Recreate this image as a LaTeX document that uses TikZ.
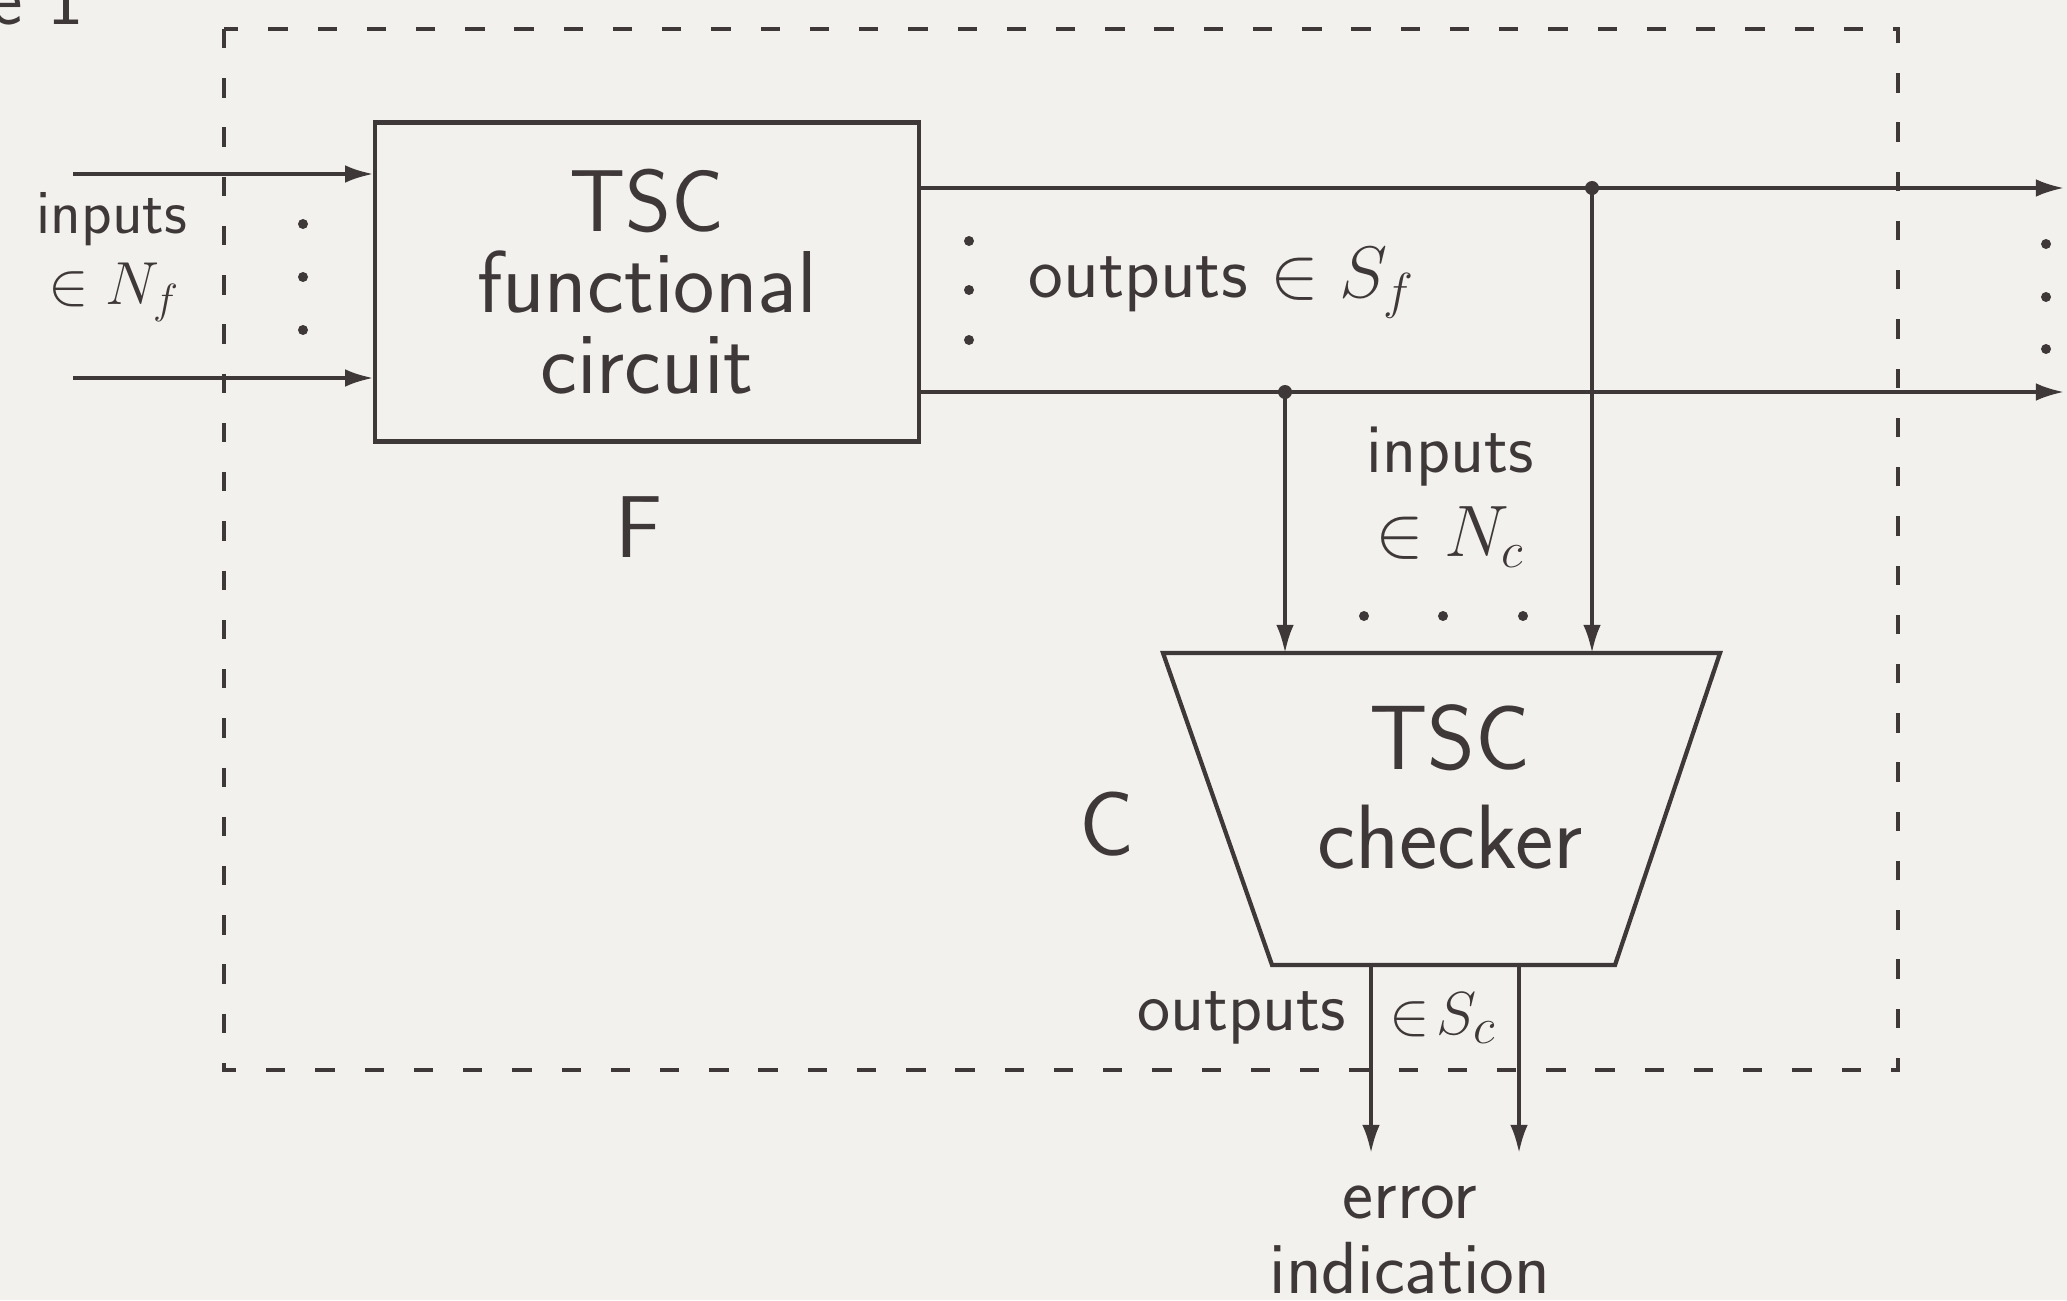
\documentclass[tikz,border=0pt]{standalone}
\usepackage{amsmath,amssymb}
\usepackage{tikz}
\usetikzlibrary{arrows.meta,positioning,calc}
\definecolor{ink}{RGB}{62,56,56}
\definecolor{paper}{RGB}{242,241,238}

\begin{document}
\begin{tikzpicture}[x=0.01cm, y=-0.01cm,
    wire/.style={ink, line width=1pt},
    sig/.style={wire, -{Latex[length=8pt, width=5pt]}},
    frame/.style={ink, line width=1.2pt, dash pattern=on 5.5pt off 8.5pt},
    blk/.style={draw=ink, line width=1.2pt, align=center, text=ink},
    lbl/.style={text=ink, align=center, font=\sffamily\fontsize{19}{22}\selectfont},
    big/.style={text=ink, align=center, font=\sffamily\fontsize{25}{23}\selectfont}]
    % Paper
    \useasboundingbox (0,0) rectangle (2067,1300);
    \fill[paper] (0,0) rectangle (2067,1300);
    \node[lbl, overlay, anchor=base east, font=\sffamily\fontsize{22}{24}\selectfont] (figno) at (96,25) {Figure 1};

    % Boundary of the self-checking network
    \draw[frame] (224,29) rectangle (1898,1070);

    % Functional circuit
    \node[blk, big, minimum width=5.43cm, minimum height=3.19cm] (fbox) at (647,282)
        {TSC\\functional\\circuit};
    \node[big] (fname) at (639,527) {F};

    % Inputs of F
    \coordinate (inA) at (73,174);
    \coordinate (inB) at (73,378);
    \draw[sig] (inA) -- (inA -| fbox.west);
    \draw[sig] (inB) -- (inB -| fbox.west);
    \node[lbl, inner sep=0pt, font=\sffamily\fontsize{18}{19}\selectfont] (finlbl) at (112,219) {inputs};
    \node[lbl, inner sep=0pt, font=\sffamily\fontsize{18}{19}\selectfont] (finset) at (114,292) {$\in N_f$};
    \fill[ink] (303,224) circle (5);
    \fill[ink] (303,277) circle (5);
    \fill[ink] (303,330) circle (5);

    % Outputs of F
    \coordinate (outA) at (2064,188);
    \coordinate (outB) at (2064,392);
    \draw[sig] (outA -| fbox.east) -- (outA);
    \draw[sig] (outB -| fbox.east) -- (outB);
    \node[lbl, font=\sffamily\fontsize{21}{22}\selectfont] (foutlbl) at (1222,283) {outputs $\in S_f$};
    \fill[ink] (969,241) circle (5);
    \fill[ink] (969,290) circle (5);
    \fill[ink] (969,340) circle (5);
    \fill[ink] (2046,244) circle (5);
    \fill[ink] (2046,297) circle (5);
    \fill[ink] (2046,349) circle (5);

    % Checker
    \coordinate (ctl) at (1163,653);
    \coordinate (ctr) at (1720,653);
    \coordinate (cbr) at (1615,965);
    \coordinate (cbl) at (1272,965);
    \draw[wire, line width=1.2pt] (ctl) -- (ctr) -- (cbr) -- (cbl) -- cycle;
    \node[big, font=\sffamily\fontsize{26}{28}\selectfont] (chk) at (1450,787) {TSC\\checker};
    \node[big, font=\sffamily\fontsize{26}{28}\selectfont] (cname) at (1107,824) {C};

    % Checker inputs
    \coordinate (jA) at (1592,188);
    \coordinate (jB) at (1285,392);
    \fill[ink] (jA) circle (7);
    \fill[ink] (jB) circle (7);
    \draw[sig] (jA) -- (jA |- ctl);
    \draw[sig] (jB) -- (jB |- ctl);
    \node[lbl, font=\sffamily\fontsize{20}{24}\selectfont] (cinlbl) at (1450,497) {inputs\\$\in N_c$};
    \fill[ink] (1364,616) circle (5);
    \fill[ink] (1443,616) circle (5);
    \fill[ink] (1523,616) circle (5);

    % Checker outputs
    \coordinate (eA) at (1371,1153);
    \coordinate (eB) at (1519,1153);
    \draw[sig] (eA |- cbl) -- (eA);
    \draw[sig] (eB |- cbl) -- (eB);
    \node[lbl, font=\sffamily\fontsize{20}{22}\selectfont, anchor=east] (coutlbl) at (1358,1018) {outputs};
    \node[lbl, font=\sffamily\fontsize{19}{22}\selectfont, inner sep=0pt] (coutset) at (1443,1018) {$\in\!S_c$};
    \node[lbl, font=\sffamily\fontsize{21}{21.5}\selectfont] (errlbl) at (1410,1240) {error\\indication};
\end{tikzpicture}
\end{document}
